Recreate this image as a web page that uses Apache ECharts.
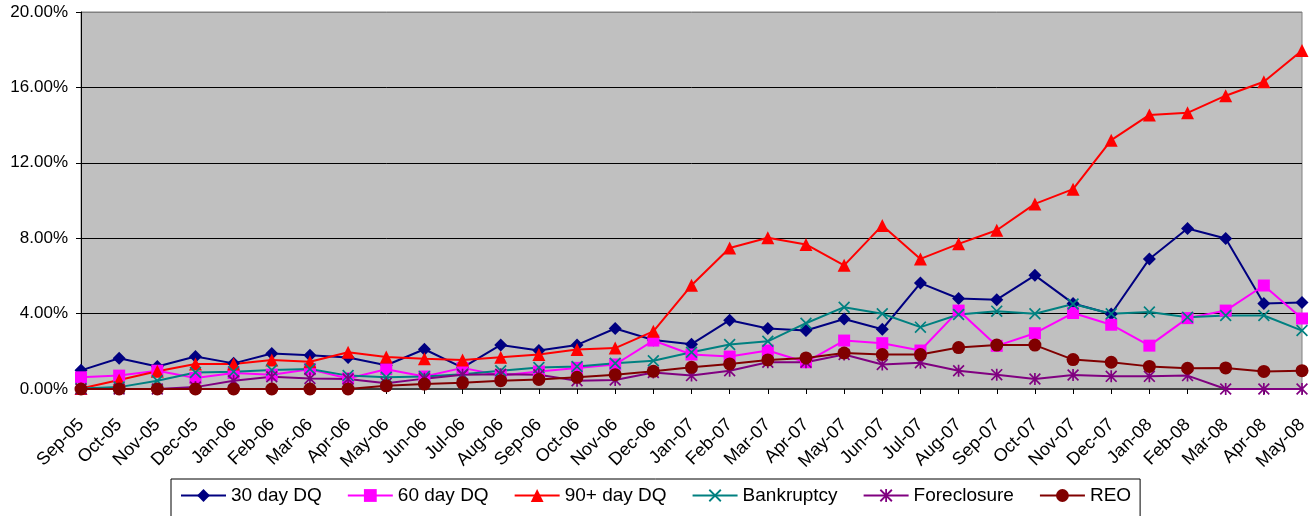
<!DOCTYPE html>
<html>
<head>
<meta charset="utf-8">
<script src="https://cdn.jsdelivr.net/npm/echarts@6/dist/echarts.min.js"></script>
<style>
  html, body { margin: 0; padding: 0; background: #fff; }
  #chart { width: 1312px; height: 516px; }
</style>
</head>
<body>
<div id="chart"></div>
<script>
// --- data (percent) ---
const months = ['Sep-05','Oct-05','Nov-05','Dec-05','Jan-06','Feb-06','Mar-06','Apr-06','May-06','Jun-06','Jul-06','Aug-06',
  'Sep-06','Oct-06','Nov-06','Dec-06','Jan-07','Feb-07','Mar-07','Apr-07','May-07','Jun-07','Jul-07','Aug-07',
  'Sep-07','Oct-07','Nov-07','Dec-07','Jan-08','Feb-08','Mar-08','Apr-08','May-08'];

const dq30 = [0.99,1.63,1.19,1.72,1.36,1.88,1.79,1.67,1.26,2.11,1.13,2.34,2.04,2.34,3.21,2.6,2.38,3.65,3.21,3.1,3.71,3.17,5.62,4.8,4.74,6.03,4.54,3.98,6.9,8.51,7.98,4.54,4.59];
const dq60 = [0.62,0.71,0.97,0.58,0.85,0.76,1.05,0.56,1.05,0.66,1.12,0.72,0.93,1.12,1.3,2.57,1.83,1.72,2.04,1.42,2.57,2.43,2.04,4.16,2.29,2.96,4.03,3.41,2.3,3.76,4.16,5.49,3.74];
const dq90 = [0.03,0.48,0.94,1.33,1.33,1.54,1.45,1.95,1.7,1.6,1.54,1.69,1.83,2.1,2.17,3.06,5.5,7.48,8.02,7.67,6.56,8.68,6.9,7.7,8.42,9.82,10.6,13.2,14.54,14.65,15.56,16.3,17.96];
const bankruptcy = [0.03,0.1,0.44,0.88,0.92,1.01,1.06,0.71,0.62,0.66,0.78,0.97,1.14,1.19,1.37,1.5,1.95,2.36,2.53,3.49,4.34,3.99,3.28,3.95,4.13,3.99,4.51,3.99,4.08,3.81,3.9,3.9,3.1];
const foreclosure = [0,0,0,0.1,0.44,0.65,0.56,0.53,0.3,0.55,0.75,0.78,0.75,0.44,0.48,0.88,0.71,0.97,1.42,1.42,1.83,1.3,1.39,0.97,0.76,0.53,0.74,0.67,0.67,0.71,0,0,0];
const reo = [0,0,0,0,0,0,0,0,0.17,0.26,0.33,0.44,0.51,0.62,0.76,0.94,1.15,1.33,1.54,1.65,1.91,1.83,1.83,2.2,2.33,2.33,1.56,1.42,1.2,1.1,1.12,0.93,0.97];

const yTicks = [0, 4, 8, 12, 16, 20];

// marker shapes for the x and asterisk markers
const crossPath = 'path://M0,1 L1,0 L10,9 L9,10 Z M9,0 L10,1 L1,10 L0,9 Z';
const starPath = 'path://M0,1 L1,0 L10,9 L9,10 Z M9,0 L10,1 L1,10 L0,9 Z M4.3,0 L5.7,0 L5.7,10 L4.3,10 Z';

const font = '"Liberation Sans", Arial, sans-serif';

function makeSeries(name, data, color, symbol, size) {
    return {
        name: name,
        type: 'line',
        data: data,
        symbol: symbol,
        symbolSize: size,
        showAllSymbol: true,
        clip: false,
        lineStyle: { color: color, width: 2 },
        itemStyle: { color: color, borderWidth: 0 },
        emphasis: { disabled: true },
        animation: false
    };
}

const chart = echarts.init(document.getElementById('chart'));
chart.setOption({
    backgroundColor: '#fff',
    textStyle: { fontFamily: font },
    grid: {
        left: 81, right: 10, top: 12, bottom: 127,
        show: true,
        backgroundColor: '#C0C0C0',
        borderColor: '#808080',
        borderWidth: 1
    },
    legend: {
        left: 171,
        top: 479,
        orient: 'horizontal',
        itemWidth: 45,
        itemHeight: 16,
        itemGap: 25,
        padding: [7, 9, 12, 9],
        borderColor: '#000',
        borderWidth: 1,
        backgroundColor: '#fff',
        textStyle: { fontSize: 19, color: '#000', fontFamily: font },
        data: ['30 day DQ', '60 day DQ', '90+ day DQ', 'Bankruptcy', 'Foreclosure', 'REO']
    },
    xAxis: {
        type: 'category',
        data: months,
        boundaryGap: false,
        axisLine: { lineStyle: { color: '#404040', width: 2 } },
        axisTick: { show: true, length: 5, lineStyle: { color: '#000' }, interval: 0 },
        axisLabel: { rotate: 45, interval: 0, fontSize: 18, color: '#000', margin: 33, fontFamily: font },
        splitLine: { show: false }
    },
    yAxis: {
        type: 'value',
        min: yTicks[0],
        max: yTicks[yTicks.length - 1],
        interval: 4,
        axisLine: { show: true, lineStyle: { color: '#000', width: 1 } },
        axisTick: { show: true, length: 5, lineStyle: { color: '#000' } },
        axisLabel: {
            fontSize: 17, color: '#000', margin: 13, fontFamily: font,
            formatter: v => v.toFixed(2) + '%'
        },
        splitLine: { show: true, lineStyle: { color: ['#000', '#000', '#000', '#000', '#000', '#808080'], width: 1 } }
    },
    series: [
        makeSeries('30 day DQ', dq30, '#000080', 'diamond', 13),
        makeSeries('60 day DQ', dq60, '#FF00FF', 'rect', 12),
        makeSeries('90+ day DQ', dq90, '#FF0000', 'triangle', 13),
        makeSeries('Bankruptcy', bankruptcy, '#008080', crossPath, 12),
        makeSeries('Foreclosure', foreclosure, '#800080', starPath, 12),
        makeSeries('REO', reo, '#800000', 'circle', 13)
    ]
});
</script>
</body>
</html>
